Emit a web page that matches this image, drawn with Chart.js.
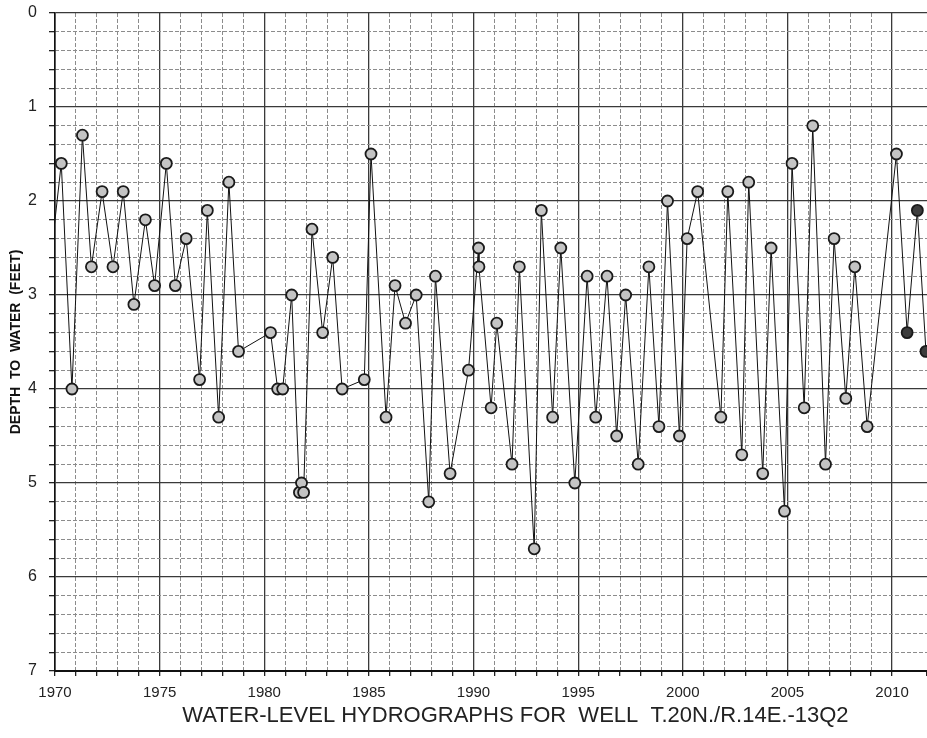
<!DOCTYPE html>
<html>
<head>
<meta charset="utf-8">
<script src="https://cdn.jsdelivr.net/npm/chart.js@4/dist/chart.umd.min.js"></script>
<style>
  body { margin: 0; background: #fff; }
  canvas { display: block; }
</style>
</head>
<body>
<canvas id="hydrograph" width="927" height="738"></canvas>
<script>
"use strict";

// measurement dates (decimal years) and depth to water (feet)
// the first reading sits just before 1970, off the left edge of the sheet
var years = [
    1969.6, 1970.30, 1970.81, 1971.31, 1971.74, 1972.25, 1972.77, 1973.26, 1973.77, 1974.32,
    1974.76, 1975.32, 1975.75, 1976.27, 1976.91, 1977.28, 1977.82, 1978.31, 1978.77, 1980.30,
    1980.64, 1980.88, 1981.31, 1981.68, 1981.78, 1981.88, 1982.28, 1982.79, 1983.27, 1983.72,
    1984.78, 1985.10, 1985.82, 1986.25, 1986.75, 1987.26, 1987.86, 1988.18, 1988.88, 1989.76,
    1990.24, 1990.26, 1990.84, 1991.11, 1991.84, 1992.19, 1992.90, 1993.24, 1993.78, 1994.17,
    1994.84, 1995.43, 1995.84, 1996.38, 1996.84, 1997.27, 1997.87, 1998.38, 1998.86, 1999.27,
    1999.84, 2000.21, 2000.71, 2001.82, 2002.15, 2002.82, 2003.15, 2003.82, 2004.22, 2004.86,
    2005.22, 2005.80, 2006.21, 2006.82, 2007.23, 2007.79, 2008.22, 2008.81, 2010.21, 2010.72,
    2011.21, 2011.62
];
var depths = [
    3.0, 1.6, 4.0, 1.3, 2.7, 1.9, 2.7, 1.9, 3.1, 2.2,
    2.9, 1.6, 2.9, 2.4, 3.9, 2.1, 4.3, 1.8, 3.6, 3.4,
    4.0, 4.0, 3.0, 5.1, 5.0, 5.1, 2.3, 3.4, 2.6, 4.0,
    3.9, 1.5, 4.3, 2.9, 3.3, 3.0, 5.2, 2.8, 4.9, 3.8,
    2.5, 2.7, 4.2, 3.3, 4.8, 2.7, 5.7, 2.1, 4.3, 2.5,
    5.0, 2.8, 4.3, 2.8, 4.5, 3.0, 4.8, 2.7, 4.4, 2.0,
    4.5, 2.4, 1.9, 4.3, 1.9, 4.7, 1.8, 4.9, 2.5, 5.3,
    1.6, 4.2, 1.2, 4.8, 2.4, 4.1, 2.7, 4.4, 1.5, 3.4,
    2.1, 3.6
];
var yearLabels = [1970, 1975, 1980, 1985, 1990, 1995, 2000, 2005, 2010];
var depthLabels = [0, 1, 2, 3, 4, 5, 6, 7];

var xMin = 1970, xMax = 2011.67;
var yMin = 0, yMax = 7;

var majorColor = "#3a3a3a";
var minorColor = "#8c8c8c";
var fontFamily = "'Liberation Sans', Arial, sans-serif";

function isWhole(v) {
    return Math.abs(v - Math.round(v)) < 1e-6;
}
function isMajorYear(v) {
    return isWhole(v) && yearLabels.indexOf(Math.round(v)) !== -1;
}
// keep the plot box fixed: no extra room for edge labels
function fixWidth(w) {
    return function (scale) {
        scale.width = w;
        scale.paddingTop = 0;
        scale.paddingBottom = 0;
    };
}
function fixHeight(h) {
    return function (scale) {
        scale.height = h;
        scale.paddingLeft = 0;
        scale.paddingRight = 0;
    };
}

var points = years.map(function (yr, i) {
    return { x: yr, y: depths[i] };
});

var ctx = document.getElementById("hydrograph");
var chart = new Chart(ctx, {
    type: "line",
    data: {
        datasets: [
        {
            label: "Depth to water",
            data: points,
            borderColor: "#111",
            borderWidth: 1,
            tension: 0,
            fill: false,
            pointRadius: 5.5,
            pointBorderWidth: 1.8,
            pointBorderColor: "#1a1a1a",
            pointBackgroundColor: function (c) {
                var p = c.raw;
                return p && p.x > 2010.5 ? "#3c3c3c" : "#c4c4c4";
            },
            xAxisID: "x",
            yAxisID: "y",
        }
        ],
    },
    options: {
        responsive: false,
        animation: false,
        layout: {
            autoPadding: false,
            padding: { top: 13, right: 0, bottom: 0, left: 0 },
        },
        plugins: {
            legend: { display: false },
            tooltip: { enabled: false },
        },
        scales: {
            x: {
                type: "linear",
                position: "bottom",
                min: xMin,
                max: xMax,
                afterFit: fixHeight(67),
                ticks: {
                    stepSize: 1,
                    autoSkip: false,
                    maxRotation: 0,
                    padding: 8,
                    color: "#222",
                    font: { family: fontFamily, size: 15 },
                    callback: function (v) {
                        return isMajorYear(v) ? String(Math.round(v)) : "";
                    },
                },
                grid: {
                    color: function (c) {
                        return isMajorYear(c.tick.value) ? majorColor : "rgba(0,0,0,0)";
                    },
                    lineWidth: 1.3,
                    tickColor: "#222",
                    tickLength: 5,
                },
                border: { color: "#111", width: 2 },
                title: {
                    display: true,
                    text: "        WATER-LEVEL HYDROGRAPHS FOR  WELL  T.20N./R.14E.-13Q2",
                    color: "#222",
                    font: { family: fontFamily, size: 22 },
                    padding: { top: 0, bottom: 9 },
                },
            },
            xMinor: {
                type: "linear",
                position: "bottom",
                min: xMin,
                max: xMax,
                afterFit: fixHeight(0),
                ticks: { display: false, stepSize: 1, autoSkip: false },
                grid: {
                    drawTicks: false,
                    color: function (c) {
                        return isMajorYear(c.tick.value) ? "rgba(0,0,0,0)" : minorColor;
                    },
                    lineWidth: 1,
                },
                border: { display: false, dash: [4, 2] },
            },
            y: {
                type: "linear",
                position: "left",
                reverse: true,
                min: yMin,
                max: yMax,
                afterFit: fixWidth(55),
                ticks: {
                    stepSize: 0.2,
                    autoSkip: false,
                    padding: 12,
                    color: "#222",
                    font: { family: fontFamily, size: 16 },
                    callback: function (v) {
                        return isWhole(v) && depthLabels.indexOf(Math.round(v)) !== -1 ? String(Math.round(v)) : "";
                    },
                },
                grid: {
                    color: function (c) {
                        return isWhole(c.tick.value) ? majorColor : "rgba(0,0,0,0)";
                    },
                    lineWidth: 1.3,
                    tickColor: "#222",
                    tickLength: 6,
                },
                border: { color: "#111", width: 1.6 },
                title: {
                    display: true,
                    text: "DEPTH  TO  WATER  (FEET)",
                    color: "#111",
                    font: { family: fontFamily, size: 14, weight: "bold" },
                    padding: { top: 8, bottom: 0 },
                },
            },
            yMinor: {
                type: "linear",
                position: "left",
                reverse: true,
                min: yMin,
                max: yMax,
                afterFit: fixWidth(0),
                ticks: { display: false, stepSize: 0.2, autoSkip: false },
                grid: {
                    drawTicks: false,
                    color: function (c) {
                        return isWhole(c.tick.value) ? "rgba(0,0,0,0)" : minorColor;
                    },
                    lineWidth: 1,
                },
                border: { display: false, dash: [4, 2] },
            },
        },
    },
});
</script>
</body>
</html>
